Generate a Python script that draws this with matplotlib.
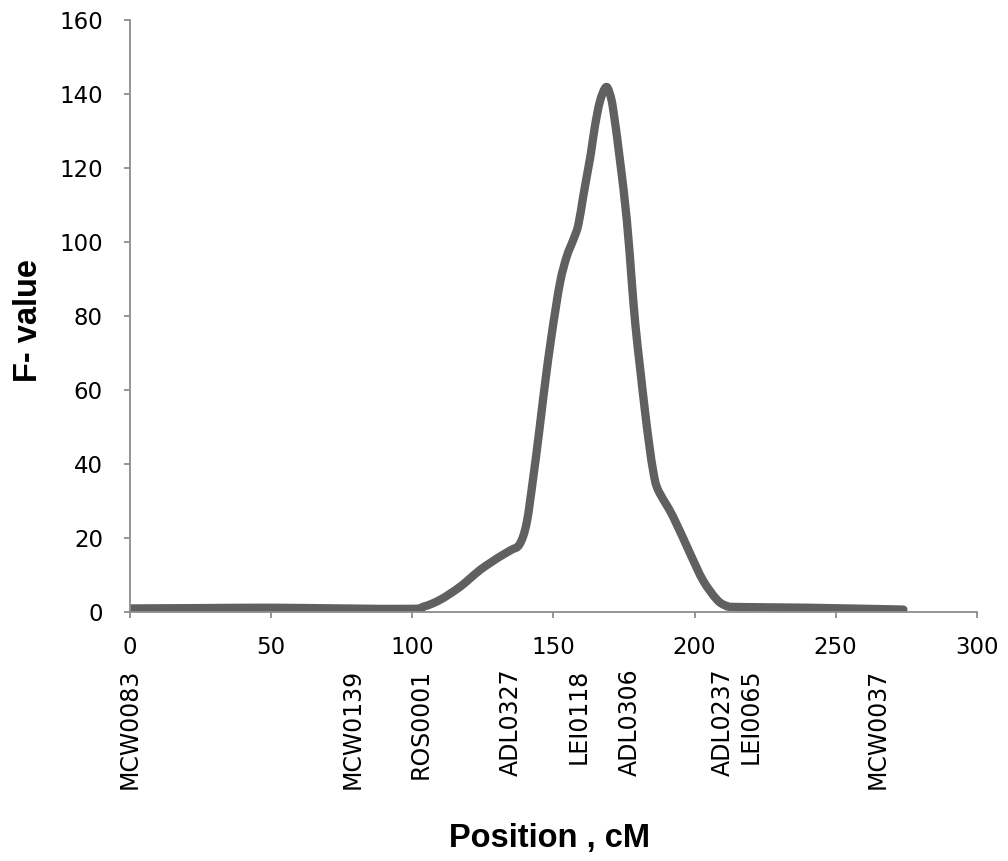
import numpy as np
import matplotlib
matplotlib.use("Agg")
import matplotlib.pyplot as plt
import matplotlib.transforms as mtransforms
from matplotlib.path import Path
from matplotlib.patches import PathPatch

# F-value profile along the chromosome
position = [0, 25, 50, 75, 100, 104, 107, 110, 113, 117, 120, 124, 128, 131,
            135, 138, 140.5, 142.8, 145, 147, 149.4, 152.3, 154.7, 157, 158.8,
            160.5, 161.8, 163.3, 164.7, 166.5, 168.6, 170, 171.2, 173.6, 176,
            177.7, 179, 180.7, 182.5, 184, 185.5, 187.1, 192.4, 198.4, 203,
            207.8, 211, 215, 240, 274]
f_value = [1.0, 1.1, 1.2, 1.0, 0.9, 1.5, 2.3, 3.4, 4.8, 6.9, 8.8, 11.4, 13.5, 15,
           16.8, 18.3, 24, 36, 49, 61.5, 75, 88.8, 96, 100.5, 104.5,
           112, 117.6, 124, 131.2, 138, 141.8, 140, 135.7, 122, 106,
           90, 78, 66, 54, 45, 37.5, 33, 25.8, 15.9, 8.6,
           3.5, 1.8, 1.4, 1.2, 0.7]

# marker names and their positions (cM)
markers = ["MCW0083", "MCW0139", "ROS0001", "ADL0327", "LEI0118", "ADL0306",
           "ADL0237", "LEI0065", "MCW0037"]
marker_pos = [0, 79, 103, 135, 159, 177, 210, 220, 265]


def smooth_path(x, y):
    # Excel-style smoothed line: bezier segments through the data points
    pts = np.column_stack([x, y]).astype(float)
    verts = [pts[0]]
    codes = [Path.MOVETO]
    n = len(pts)
    for i in range(n - 1):
        p0 = pts[max(i - 1, 0)]
        p1 = pts[i]
        p2 = pts[i + 1]
        p3 = pts[min(i + 2, n - 1)]
        c1 = p1 + (p2 - p0) / 6.0
        c2 = p2 - (p3 - p1) / 6.0
        verts += [c1, c2, p2]
        codes += [Path.CURVE4] * 3
    return Path(verts, codes)


fig = plt.figure(figsize=(10.08, 8.61), dpi=100)
ax = fig.add_axes([0.129, 0.289, 0.840, 0.688])

ax.add_patch(PathPatch(smooth_path(position, f_value), fill=False,
                       edgecolor="#606060", lw=6, capstyle="round",
                       joinstyle="round"))

ax.set_xlim(0, 300)
ax.set_ylim(0, 160)
ax.set_xticks(np.arange(0, 301, 50))
ax.set_yticks(np.arange(0, 161, 20))

for s in ["top", "right"]:
    ax.spines[s].set_visible(False)
for s in ["left", "bottom"]:
    ax.spines[s].set_color("#8c8c8c")
    ax.spines[s].set_linewidth(1.3)
ax.tick_params(axis="both", colors="#8c8c8c", length=4.5, width=1.3,
               labelcolor="black", labelsize=16.5)
ax.tick_params(axis="x", pad=13)
ax.tick_params(axis="y", pad=15)

trans = mtransforms.blended_transform_factory(ax.transData, ax.transAxes)
for name, p in zip(markers, marker_pos):
    ax.text(p, -0.095, name, rotation=90, ha="center", va="top", fontsize=17,
            transform=trans, clip_on=False)

fig.text(0.028, 0.628, "F- value", rotation=90, ha="center", va="center",
         fontsize=23.5, fontweight="bold", family="Liberation Sans")
fig.text(0.545, 0.026, "Position , cM", ha="center", va="center",
         fontsize=23.5, fontweight="bold", family="Liberation Sans")

fig.savefig("out.png", dpi=100)
